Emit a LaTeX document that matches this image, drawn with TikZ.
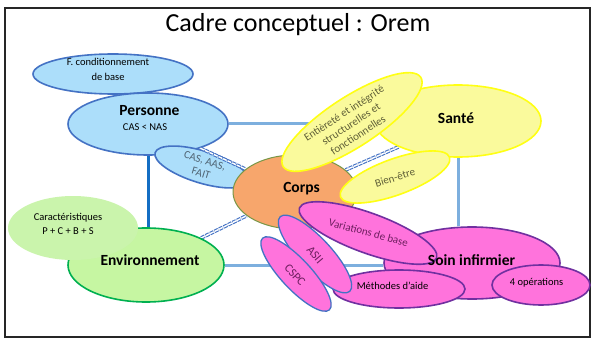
\documentclass[tikz,border=0pt]{standalone}
\usepackage{fontspec}
\setmainfont{Carlito}
\usetikzlibrary{shapes.geometric}
\pgfdeclarelayer{frame}
\pgfdeclarelayer{low}
\pgfdeclarelayer{mid}
\pgfsetlayers{frame,low,mid,main}

\definecolor{bluefill}{RGB}{172,222,250}
\definecolor{blueline}{RGB}{68,114,196}
\definecolor{greenfill}{RGB}{198,246,162}
\definecolor{greenfillb}{RGB}{202,244,172}
\definecolor{greenline}{RGB}{0,176,80}
\definecolor{yellowfill}{RGB}{250,250,156}
\definecolor{yellowline}{RGB}{255,255,20}
\definecolor{orangefill}{RGB}{247,166,108}
\definecolor{orangeline}{RGB}{120,150,70}
\definecolor{pinkfill}{RGB}{255,115,220}
\definecolor{purpleline}{RGB}{112,48,160}
\definecolor{gridblue}{RGB}{125,175,222}
\definecolor{gridblueb}{RGB}{20,110,195}
\definecolor{diagblue}{RGB}{68,114,196}
\definecolor{tblue}{RGB}{80,100,115}
\definecolor{tyellow}{RGB}{95,95,55}
\definecolor{tpink}{RGB}{110,30,95}

\tikzset{
  blob/.style={ellipse, inner sep=0pt, line width=1.6pt},
  blueblob/.style={blob, draw=blueline, fill=bluefill},
  greenblob/.style={blob, draw=greenline, fill=greenfill},
  yellowblob/.style={blob, draw=yellowline, fill=yellowfill},
  pinkblob/.style={blob, draw=purpleline, fill=pinkfill},
  pinkblueblob/.style={blob, draw=blueline, fill=pinkfill, line width=1.3pt},
  corpsblob/.style={blob, draw=orangeline, fill=orangefill, line width=1pt},
  lbl/.style={font=\fontsize{15.5}{18}\selectfont\bfseries, inner sep=0pt},
  sml/.style={font=\fontsize{10.5}{14.5}\selectfont, inner sep=0pt, align=center},
  tilt/.style={font=\fontsize{11}{13}\selectfont, inner sep=0pt, align=center},
  gridline/.style={draw=gridblue, line width=3pt},
  diag/.style={draw=diagblue, line width=1.1pt, double=white, double distance=1.4pt,
               dash pattern=on 4pt off 1pt},
}

\begin{document}
\begin{tikzpicture}[x=1pt,y=-1pt]
\useasboundingbox (0,0) rectangle (593,339);

% page and title
\begin{pgfonlayer}{frame}
  \fill[white] (0,0) rectangle (593,339);
  \draw[black!85, line width=1.6pt] (5,8) rectangle (590,337);
\end{pgfonlayer}
\node[font=\fontsize{26}{30}\selectfont, inner sep=0pt, anchor=base] (title) at (298,32) {Cadre conceptuel : Orem};

% Personne and its parts
\begin{pgfonlayer}{low}
  \node[blueblob, minimum width=160pt, minimum height=40pt] (fcb) at (113,74) {};
  \node[blueblob, minimum width=160pt, minimum height=62pt] (pers) at (148,124) {};
  \node[blueblob, minimum width=98pt, minimum height=32pt, rotate=-17] (cas) at (202,167) {};
  \node[sml] (fcbT) at (108,69.5) {F. conditionnement\\de base};
  \node[lbl] (persT) at (149.5,111) {Personne};
  \node[sml] (persS) at (145,127) {CAS < NAS};
  \node[tilt, text=tblue, rotate=-17] (casT) at (203,167) {CAS, AAS,\\FAIT};
\end{pgfonlayer}

% Corps and Sante
\node[corpsblob, minimum width=124pt, minimum height=74pt] (corps) at (295,192) {};
\node[yellowblob, minimum width=166pt, minimum height=72pt] (sante) at (458,121) {};
\node[yellowblob, minimum width=116pt, minimum height=36pt, rotate=20] (bien) at (395,177) {};
\node[yellowblob, minimum width=164pt, minimum height=50pt, rotate=33] (integ) at (352,122) {};

% Environnement
\node[greenblob, minimum width=156pt, minimum height=74pt] (env) at (146,265) {};
\node[blob, fill=greenfillb, minimum width=130pt, minimum height=64pt] (carac) at (73,228) {};

% Soin infirmier
\node[pinkblob, minimum width=176pt, minimum height=72pt] (soin) at (472,263) {};
\node[pinkblob, minimum width=132pt, minimum height=38pt] (meth) at (399,289) {};
\node[pinkblob, minimum width=98pt, minimum height=40pt] (ops) at (541,285) {};
\node[pinkblueblob, minimum width=102pt, minimum height=32pt, rotate=-47] (asii) at (315,254) {};
\node[pinkblueblob, minimum width=98pt, minimum height=30pt, rotate=-47] (cspc) at (296,274) {};
\node[pinkblob, minimum width=146pt, minimum height=40pt, rotate=-20] (vari) at (368,233) {};

% labels
\node[lbl] (corpsT) at (301.5,189) {Corps};
\node[lbl] (santeT) at (456,118) {Santé};
\node[tilt, text=tyellow, rotate=17] (bienT) at (395,177.5) {Bien-être};
\node[tilt, text=tyellow, rotate=33] (integT) at (351,124) {Entièreté et intégrité\\structurelles et\\fonctionnelles};
\node[lbl] (envT) at (150,260) {Environnement};
\node[sml] (caracT) at (68,224) {Caractéristiques\\P + C + B + S};
\node[lbl] (soinT) at (471.5,260) {Soin infirmier};
\node[sml] (methT) at (392.5,286) {Méthodes d’aide};
\node[sml] (opsT) at (536.5,283) {4 opérations};
\node[tilt, text=tpink, rotate=-50, font=\fontsize{12}{13}\selectfont] (asiiT) at (315,255) {ASII};
\node[tilt, text=tpink, rotate=-48, font=\fontsize{12}{13}\selectfont] (cspcT) at (295,275) {CSPC};
\node[tilt, text=tpink, rotate=-15] (variT) at (368.5,232.5) {Variations de base};

% square of links between the four concepts
\begin{pgfonlayer}{frame}
  \draw[gridline] (pers.east) -- (pers.east -| sante.west);
  \draw[gridline, draw=gridblueb] (pers.south) -- (pers.south |- env.north);
  \draw[gridline] (env.east) -- (env.east -| soin.west);
  \draw[gridline] (sante.south) -- (sante.south |- soin.north);
\end{pgfonlayer}

% links from each concept to Corps
\begin{pgfonlayer}{mid}
  \draw[diag] (pers) -- (corps);
  \draw[diag] (env) -- (corps);
  \draw[diag] (sante) -- (corps);
  \draw[diag] (soin) -- (corps);
\end{pgfonlayer}
\end{tikzpicture}
\end{document}
